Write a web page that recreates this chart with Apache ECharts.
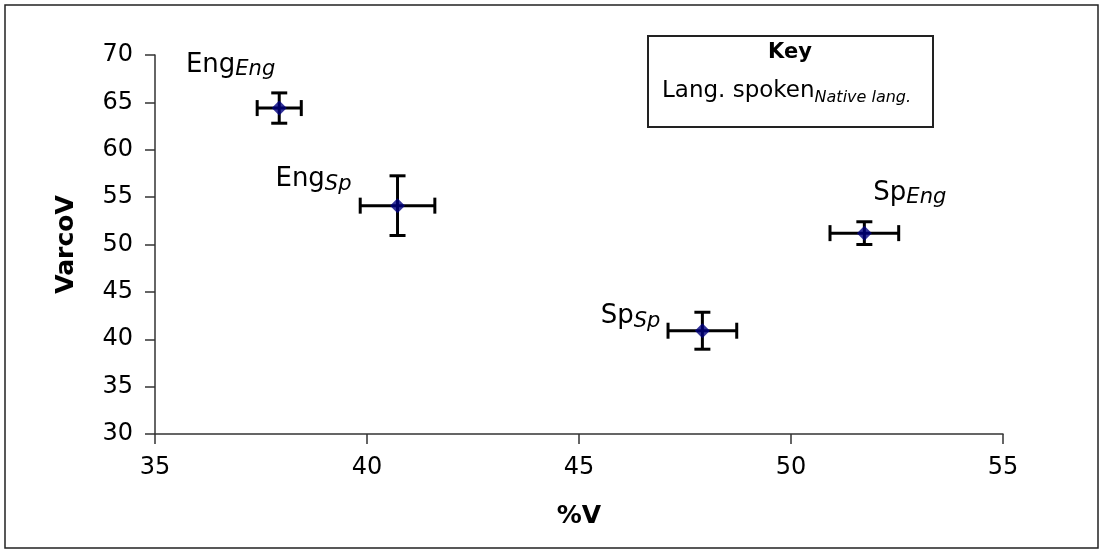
<!DOCTYPE html>
<html>
<head>
<meta charset="utf-8">
<script src="https://cdn.jsdelivr.net/npm/echarts@6/dist/echarts.min.js"></script>
<style>
html, body { margin: 0; padding: 0; background: #fff; }
#chart { width: 1104px; height: 554px; }
</style>
</head>
<body>
<div id="chart"></div>
<script>
// Language spoken / native language of each speaker group
const spokenLang = ['Eng', 'Eng', 'Sp', 'Sp'];
const nativeLang = ['Eng', 'Sp', 'Sp', 'Eng'];
// Group means
const pctV = [37.93, 40.72, 47.91, 51.73];
const varcoV = [64.4, 54.1, 40.9, 51.2];
// Error-bar half widths
const pctVErr = [0.52, 0.88, 0.81, 0.81];
const varcoVErr = [1.6, 3.15, 1.95, 1.2];
// Axis ticks
const xTicks = [35, 40, 45, 50, 55];
const yTicks = [30, 35, 40, 45, 50, 55, 60, 65, 70];

const FONT = '"DejaVu Sans", "Liberation Sans", Arial, sans-serif';

// Where each group label sits relative to its point (pixels)
const labelPlace = [
  { dx: -4, dy: -42, align: 'right' },
  { dx: -46, dy: -25, align: 'right' },
  { dx: -42, dy: -13, align: 'right' },
  { dx: 9, dy: -39, align: 'left' }
];
const labelRich = {
  m: { fontSize: 26, fontFamily: FONT, fill: '#000', lineHeight: 28, padding: [0, 0, 10, 0], verticalAlign: 'top' },
  s: { fontSize: 21, fontStyle: 'italic', fontFamily: FONT, fill: '#000', lineHeight: 22, verticalAlign: 'bottom' }
};

const errData = pctV.map((x, i) => [x, varcoV[i], pctVErr[i], varcoVErr[i]]);
const pointData = pctV.map((x, i) => [x, varcoV[i]]);

const CAP = 8;
function renderErr(params, api) {
  const i = params.dataIndex;
  const x = api.value(0), y = api.value(1), ex = api.value(2), ey = api.value(3);
  const c = api.coord([x, y]);
  const l = api.coord([x - ex, y]), r = api.coord([x + ex, y]);
  const t = api.coord([x, y + ey]), b = api.coord([x, y - ey]);
  const st = { stroke: '#000', lineWidth: 3 };
  const line = (x1, y1, x2, y2) => ({ type: 'line', shape: { x1, y1, x2, y2 }, style: st });
  const lp = labelPlace[i];
  return {
    type: 'group',
    children: [
      line(l[0], l[1], r[0], r[1]),
      line(l[0], l[1] - CAP, l[0], l[1] + CAP),
      line(r[0], r[1] - CAP, r[0], r[1] + CAP),
      line(t[0], t[1], b[0], b[1]),
      line(t[0] - CAP, t[1], t[0] + CAP, t[1]),
      line(b[0] - CAP, b[1], b[0] + CAP, b[1]),
      {
        type: 'text',
        x: c[0] + lp.dx,
        y: c[1] + lp.dy,
        style: {
          text: '{m|' + spokenLang[i] + '}{s|' + nativeLang[i] + '}',
          rich: labelRich,
          fill: '#000',
          align: lp.align,
          verticalAlign: 'middle'
        }
      }
    ]
  };
}

const axisCommon = {
  axisLine: { show: true, lineStyle: { color: '#333', width: 1.5 } },
  axisTick: { show: true, inside: false, length: 10, lineStyle: { color: '#333', width: 1.5 } },
  splitLine: { show: false },
  axisLabel: { color: '#000', fontSize: 24, fontFamily: FONT },
  nameTextStyle: { color: '#000', fontSize: 25, fontWeight: 'bold', fontFamily: FONT }
};

const chart = echarts.init(document.getElementById('chart'), null, { renderer: 'canvas' });
chart.setOption({
  animation: false,
  backgroundColor: '#fff',
  grid: { left: 155, right: 101, top: 55, bottom: 120, containLabel: false },
  xAxis: Object.assign({}, axisCommon, {
    type: 'value',
    min: xTicks[0], max: xTicks[xTicks.length - 1], interval: 5,
    name: '%V', nameLocation: 'middle', nameGap: 70,
    axisLabel: Object.assign({}, axisCommon.axisLabel, { margin: 22 })
  }),
  yAxis: Object.assign({}, axisCommon, {
    type: 'value',
    min: yTicks[0], max: yTicks[yTicks.length - 1], interval: 5,
    name: 'VarcoV', nameLocation: 'middle', nameGap: 76, nameRotate: 90,
    axisLabel: Object.assign({}, axisCommon.axisLabel, { margin: 22 })
  }),
  series: [
    {
      type: 'custom',
      renderItem: renderErr,
      data: errData,
      silent: true,
      z: 2
    },
    {
      type: 'scatter',
      symbol: 'diamond',
      symbolSize: 15,
      itemStyle: { color: '#000080' },
      silent: true,
      z: 3,
      data: pointData
    }
  ],
  graphic: [
    {
      type: 'rect',
      shape: { x: 5, y: 5, width: 1093, height: 543 },
      style: { fill: 'none', stroke: '#222', lineWidth: 1.5 },
      silent: true
    },
    {
      type: 'rect',
      shape: { x: 648, y: 36, width: 285, height: 91 },
      style: { fill: '#fff', stroke: '#222', lineWidth: 2 },
      z: 10
    },
    {
      type: 'text',
      x: 790, y: 53,
      style: { text: 'Key', fontSize: 21, fontWeight: 'bold', fontFamily: FONT, fill: '#000', align: 'center', verticalAlign: 'middle' },
      z: 11
    },
    {
      type: 'text',
      x: 662, y: 80,
      style: {
        text: '{m|Lang. spoken}{s|Native lang.}',
        rich: {
          m: { fontSize: 23, fontFamily: FONT, fill: '#000', lineHeight: 26, padding: [0, 0, 9, 0], verticalAlign: 'top' },
          s: { fontSize: 16, fontStyle: 'italic', fontFamily: FONT, fill: '#000', lineHeight: 18, verticalAlign: 'bottom' }
        }
      },
      z: 11
    }
  ]
});
</script>
</body>
</html>
